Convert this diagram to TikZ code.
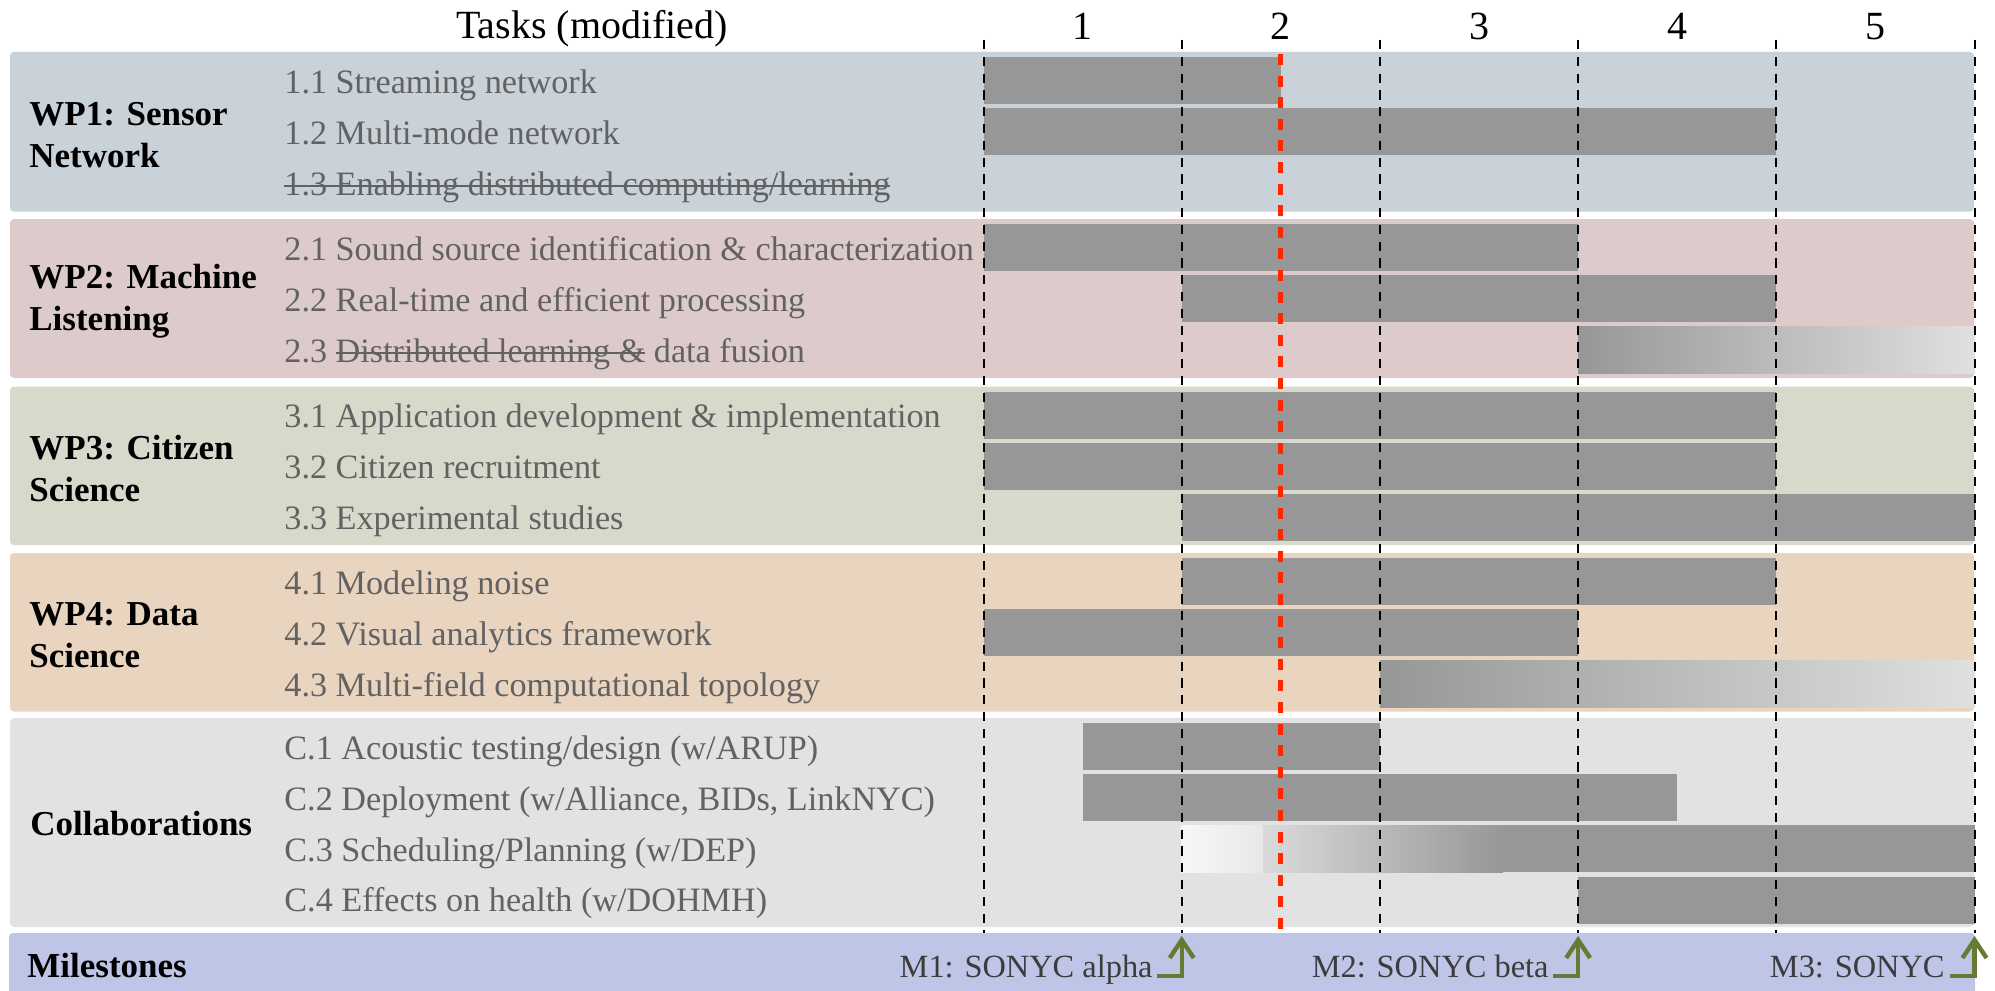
\documentclass[tikz,border=0pt]{standalone}
\usepackage{fontspec}
\setmainfont{Liberation Serif}
\usetikzlibrary{arrows.meta}
\definecolor{wpa}{RGB}{201,209,217}
\definecolor{wpb}{RGB}{221,203,203}
\definecolor{wpc}{RGB}{215,218,203}
\definecolor{wpd}{RGB}{232,212,191}
\definecolor{wpe}{RGB}{226,226,226}
\definecolor{milec}{RGB}{191,197,230}
\definecolor{barc}{RGB}{151,151,151}
\definecolor{barl}{RGB}{224,224,224}
\definecolor{barw}{RGB}{247,247,247}
\definecolor{barm}{RGB}{232,232,232}
\definecolor{barn}{RGB}{218,218,218}
\definecolor{taskc}{RGB}{98,98,98}
\definecolor{milet}{RGB}{60,60,60}
\definecolor{redc}{RGB}{255,38,0}
\definecolor{greenc}{RGB}{103,122,52}
\newcommand\strk[1]{\setbox0=\hbox{#1}\rlap{\raisebox{0.25em}{\rule{\wd0}{1pt}}}\box0\relax}
\newcommand\gb[3]{\fill[barc] (#1,#3) rectangle (#2,#3+47);}
\begin{document}
\begin{tikzpicture}[x=0.5pt,y=-0.5pt,
 task/.style={anchor=mid west,inner sep=0pt,text=taskc,font=\fontsize{17.1}{20}\selectfont},
 wplab/.style={anchor=west,align=left,inner sep=0pt,font=\fontsize{17.5}{21}\selectfont\bfseries},
 yeargrid/.style={line width=1pt,dash pattern=on 4.6pt off 3.8pt},
 today/.style={redc,line width=2.5pt,dash pattern=on 5.5pt off 5.3pt},
 ms/.style={greenc,line width=2.2pt,line join=miter,-{Straight Barb[length=9pt,width=12pt]}},
 mstext/.style={anchor=base east,inner sep=0pt,text=milet,font=\fontsize{16.2}{19}\selectfont},
 yearlab/.style={anchor=base,inner sep=0pt,font=\fontsize{20}{24}\selectfont},
 wpbox/.style={rounded corners=2pt}]
\useasboundingbox (0,0) rectangle (1995,990);
% group boxes
\fill[wpa,wpbox] (10,52) rectangle (1974,211.5);
\fill[wpb,wpbox] (10,219) rectangle (1974,378);
\fill[wpc,wpbox] (10,386.5) rectangle (1974,545);
\fill[wpd,wpbox] (10,553) rectangle (1974,711.5);
\fill[wpe,wpbox] (10,718) rectangle (1974,927);
\fill[milec,wpbox] (9,933) rectangle (1975,1000);
% bars WP1
\gb{983.5}{1280.8}{57}
\gb{983.5}{1776.3}{108.2}
% WP2
\gb{983.5}{1578.1}{224}
\gb{1181.7}{1776.3}{275.2}
\shade[left color=barc,right color=barl] (1578.1,326.4) rectangle (1974.5,373.4);
% WP3
\gb{983.5}{1776.3}{391.5}
\gb{983.5}{1776.3}{442.7}
\gb{1181.7}{1974.5}{493.9}
% WP4
\gb{1181.7}{1776.3}{558}
\gb{983.5}{1578.1}{609.2}
\shade[left color=barc,right color=barl] (1379.9,660.4) rectangle (1974.5,707.4);
% Collaborations
\gb{1082.6}{1379.9}{723}
\gb{1082.6}{1677.2}{774.2}
\shade[left color=barw,right color=barm] (1181.7,825.4) rectangle (1263.5,872.4);
\shade[left color=barn,right color=barc] (1263,825.4) rectangle (1503,872.4);
\gb{1502.5}{1974.5}{825.4}
\gb{1578.1}{1974.5}{876.6}
% header
\node[anchor=base,inner sep=0pt,font=\fontsize{20}{24}\selectfont] (hdr) at (592,39) {Tasks (modified)};
\node[yearlab] (y1) at (1082.6,40) {1};
\node[yearlab] (y2) at (1280.8,40) {2};
\node[yearlab] (y3) at (1479.0,40) {3};
\node[yearlab] (y4) at (1677.2,40) {4};
\node[yearlab] (y5) at (1875.4,40) {5};
% group labels
\node[wplab] (wp1) at (29,134.75) {WP1: Sensor\\Network};
\node[wplab] (wp2) at (29,301.5) {WP2: Machine\\Listening};
\node[wplab] (wp3) at (29,468.75) {WP3: Citizen\\Science};
\node[wplab] (wp4) at (29,635.25) {WP4: Data\\Science};
\node[wplab] (col) at (30,824) {Collaborations};
\node[anchor=base west,inner sep=0pt,font=\fontsize{17.5}{21}\selectfont\bfseries] (mil) at (27,977) {Milestones};
% tasks
\node[task] (t11) at (284,88.5) {1.1 Streaming network};
\node[task] (t12) at (284,139.7) {1.2 Multi-mode network};
\node[task] (t13) at (284,190.9) {\strk{1.3 Enabling distributed computing/learning}};
\node[task] (t21) at (284,255.5) {2.1 Sound source identification \& characterization};
\node[task] (t22) at (284,306.7) {2.2 Real-time and efficient processing};
\node[task] (t23) at (284,357.9) {2.3 \strk{Distributed learning \&} data fusion};
\node[task] (t31) at (284,423) {3.1 Application development \& implementation};
\node[task] (t32) at (284,474.2) {3.2 Citizen recruitment};
\node[task] (t33) at (284,525.4) {3.3 Experimental studies};
\node[task] (t41) at (284,589.5) {4.1 Modeling noise};
\node[task] (t42) at (284,640.7) {4.2 Visual analytics framework};
\node[task] (t43) at (284,691.9) {4.3 Multi-field computational topology};
\node[task] (c1) at (284,754.5) {C.1 Acoustic testing/design (w/ARUP)};
\node[task] (c2) at (284,805.7) {C.2 Deployment (w/Alliance, BIDs, LinkNYC)};
\node[task] (c3) at (284,856.9) {C.3 Scheduling/Planning (w/DEP)};
\node[task] (c4) at (284,907.1) {C.4 Effects on health (w/DOHMH)};
% year grid
\foreach \k in {0,...,5}
  \draw[yeargrid] ({983.5+198.2*\k},40) -- ({983.5+198.2*\k},933);
\draw[today] (1280.8,54) -- (1280.8,930);
% milestones
\coordinate (m1s) at (1156.7,976); \coordinate (m1c) at (1181.7,976); \coordinate (m1t) at (1181.7,936);
\coordinate (m2s) at (1553.1,976); \coordinate (m2c) at (1578.1,976); \coordinate (m2t) at (1578.1,936);
\coordinate (m3s) at (1949.5,976); \coordinate (m3c) at (1974.5,976); \coordinate (m3t) at (1974.5,936);
\draw[ms] (m1s) -- (m1c) -- (m1t);
\draw[ms] (m2s) -- (m2c) -- (m2t);
\draw[ms] (m3s) -- (m3c) -- (m3t);
\node[mstext] (m1) at (1153,977) {M1: SONYC alpha};
\node[mstext] (m2) at (1549,977) {M2: SONYC beta};
\node[mstext] (m3) at (1945,977) {M3: SONYC};
\end{tikzpicture}
\end{document}
